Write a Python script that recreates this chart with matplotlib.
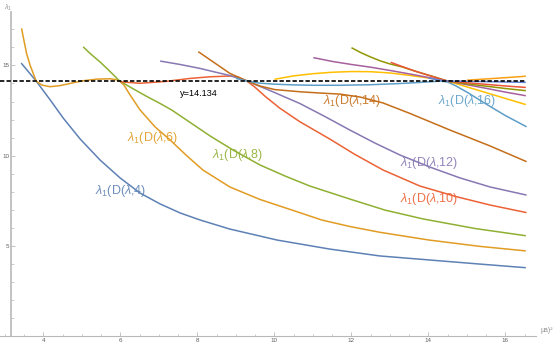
import matplotlib
matplotlib.use("Agg")
import matplotlib.pyplot as plt
from matplotlib.ticker import FixedLocator

plt.rcParams['mathtext.fontset'] = 'custom'
plt.rcParams['mathtext.rm'] = 'Liberation Sans'
plt.rcParams['mathtext.it'] = 'Liberation Sans:italic'
plt.rcParams['font.family'] = ['Liberation Sans', 'DejaVu Sans']

# ---- data ----
x4 = [3.42, 3.81, 4.17, 4.51, 4.95, 5.47, 5.99, 6.51, 7.03, 7.55, 8.07, 8.84, 10.07, 11.44, 12.74, 14.01, 15.34, 16.53]
y4 = [15.13, 14.13, 13.1, 12.09, 10.93, 9.76, 8.77, 7.93, 7.33, 6.83, 6.44, 5.94, 5.33, 4.83, 4.45, 4.23, 4.0, 3.8]

x6 = [3.43, 3.49, 3.56, 3.65, 3.81, 3.96, 4.17, 4.43, 4.69, 5.03, 5.39, 5.73, 5.88, 5.97, 6.09, 6.25, 6.51, 6.9, 7.29, 7.7, 8.14, 8.84, 9.62, 10.4, 11.23, 11.96, 12.74, 14.02, 15.34, 16.53]
y6 = [17.05, 16.4, 15.67, 15.02, 14.13, 13.91, 13.82, 13.88, 14.0, 14.15, 14.24, 14.26, 14.21, 14.15, 13.91, 13.36, 12.53, 11.59, 10.87, 10.04, 9.21, 8.27, 7.58, 7.03, 6.44, 6.08, 5.76, 5.33, 4.98, 4.73]

x8 = [5.03, 5.21, 5.47, 5.73, 5.97, 6.25, 6.64, 7.03, 7.33, 7.81, 8.33, 8.92, 9.62, 10.27, 10.92, 11.96, 12.87, 13.86, 15.21, 16.53]
y8 = [16.03, 15.66, 15.19, 14.66, 14.15, 13.8, 13.33, 12.89, 12.53, 11.84, 11.09, 10.32, 9.49, 8.88, 8.32, 7.6, 6.99, 6.5, 5.97, 5.57]

x10 = [6.0, 6.51, 7.16, 7.81, 8.33, 8.84, 9.05, 9.28, 9.49, 9.75, 10.14, 10.66, 11.44, 12.09, 12.82, 13.78, 14.73, 15.6, 16.55]
y10 = [14.09, 14.01, 14.11, 14.28, 14.37, 14.41, 14.36, 14.14, 13.8, 13.3, 12.63, 11.88, 10.92, 10.07, 9.21, 8.32, 7.73, 7.27, 6.85]

x12 = [7.03, 7.55, 8.07, 8.46, 8.84, 9.28, 9.88, 10.66, 11.31, 11.96, 12.61, 13.26, 14.04, 14.82, 15.6, 16.55]
y12 = [15.24, 15.05, 14.83, 14.63, 14.44, 14.14, 13.61, 12.89, 12.17, 11.42, 10.7, 10.04, 9.37, 8.77, 8.27, 7.82]

x14 = [8.02, 8.43, 8.84, 9.28, 9.62, 10.01, 10.66, 11.18, 11.7, 12.22, 12.82, 13.52, 14.56, 15.6, 16.55]
y14 = [15.76, 15.16, 14.56, 14.14, 13.86, 13.66, 13.54, 13.47, 13.41, 13.25, 12.92, 12.34, 11.42, 10.54, 9.67]

x16 = [9.0, 9.28, 9.6, 10.0, 10.5, 11.0, 11.7, 12.5, 13.2, 13.8, 14.3, 14.5, 14.7, 15.0, 15.5, 16.0, 16.55]
y16 = [14.28, 14.14, 14.02, 13.96, 13.92, 13.9, 13.9, 13.93, 13.99, 14.06, 14.13, 14.08, 13.88, 13.52, 12.86, 12.22, 11.6]

x18 = [10.0, 10.5, 11.0, 11.5, 12.0, 12.5, 13.0, 13.5, 14.0, 14.5, 15.0, 15.5, 16.0, 16.53]
y18 = [14.23, 14.42, 14.54, 14.62, 14.66, 14.65, 14.58, 14.45, 14.3, 14.13, 13.81, 13.49, 13.17, 12.83]

x20 = [11.01, 11.5, 12.0, 12.5, 13.0, 13.5, 14.0, 14.5, 15.0, 15.5, 16.0, 16.53]
y20 = [15.43, 15.22, 15.05, 14.9, 14.72, 14.53, 14.33, 14.13, 13.93, 13.73, 13.52, 13.32]

x22 = [12.0, 12.25, 12.48, 12.75, 13.0, 13.34, 13.7, 14.1, 14.5, 15.0, 15.5, 16.0, 16.53]
y22 = [15.98, 15.7, 15.48, 15.25, 15.08, 14.9, 14.65, 14.4, 14.13, 13.98, 13.85, 13.72, 13.6]

x24 = [13.02, 13.3, 13.6, 14.0, 14.5, 15.0, 15.5, 16.0, 16.53]
y24 = [15.17, 14.95, 14.72, 14.45, 14.13, 14.04, 13.95, 13.86, 13.78]

x26 = [14.0, 14.25, 14.5, 15.0, 15.5, 16.0, 16.53]
y26 = [14.3, 14.2, 14.13, 14.12, 14.1, 14.08, 14.06]

x28 = [15.0, 15.5, 16.0, 16.53]
y28 = [14.18, 14.25, 14.32, 14.4]

zeta_zero = 14.134
ref_x = [2.87, 16.5]

series_x = [x4, x6, x8, x10, x12, x14, x16, x18, x20, x22, x24, x26, x28]
series_y = [y4, y6, y8, y10, y12, y14, y16, y18, y20, y22, y24, y26, y28]
colors = ['#5E81B5', '#E19C24', '#8FB032', '#EB6235', '#8778B3', '#C56E1A',
          '#5D9EC7', '#FFBF00', '#A5609D', '#929600', '#E95536', '#6685D9', '#F89F13']

label_n = ['4', '6', '8', '10', '12', '14', '16']
label_x = [5.34, 6.17, 8.37, 13.26, 13.26, 11.26, 14.25]
label_y = [8.05, 10.98, 10.04, 7.6, 9.62, 13.03, 13.03]

x_major = [4, 6, 8, 10, 12, 14, 16]
x_minor = [3.0, 3.5, 4.5, 5.0, 5.5, 6.5, 7.0, 7.5, 8.5, 9.0, 9.5, 10.5, 11.0, 11.5,
           12.5, 13.0, 13.5, 14.5, 15.0, 15.5, 16.5]
y_major = [5, 10, 15]
y_minor = [1, 2, 3, 4, 6, 7, 8, 9, 11, 12, 13, 14, 16, 17]

# ---- figure ----
fig = plt.figure(figsize=(5.57, 3.47), dpi=100)
ax = fig.add_axes([0, 0, 1, 1])
ax.set_xlim(2.87, 17.34)
ax.set_ylim(-0.59, 18.62)

for xs, ys, c in zip(series_x, series_y, colors):
    ax.plot(xs, ys, color=c, lw=1.1, solid_capstyle='butt', solid_joinstyle='round', zorder=2)

ax.plot(ref_x, [zeta_zero, zeta_zero], color='black', lw=1.2,
        ls=(0, (2.6, 1.3)), zorder=3)
ax.text(7.55, 13.47, 'y=14.134', fontsize=6.6, color='black', va='center', ha='left')

for n, lx, ly, c in zip(label_n, label_x, label_y, colors):
    ax.text(lx, ly, r'$\mathit{\lambda}_{1}$' + '(D(' + r'$\mathit{\lambda}$' + ',' + n + ')',
            fontsize=9, color=c, va='center', ha='left', alpha=0.9)

axc = '#b8b8b8'
for s in ['top', 'right']:
    ax.spines[s].set_visible(False)
ax.spines['left'].set_position(('data', 3.16))
ax.spines['bottom'].set_position(('data', 0))
ax.spines['left'].set_bounds(0, 17.95)
ax.spines['bottom'].set_bounds(2.87, 16.79)
ax.spines['left'].set_color(axc)
ax.spines['bottom'].set_color(axc)
ax.spines['left'].set_linewidth(1.2)
ax.spines['bottom'].set_linewidth(0.8)

ax.xaxis.set_major_locator(FixedLocator(x_major))
ax.xaxis.set_minor_locator(FixedLocator(x_minor))
ax.yaxis.set_major_locator(FixedLocator(y_major))
ax.yaxis.set_minor_locator(FixedLocator(y_minor))
ax.set_xticklabels([str(v) for v in x_major])
ax.set_yticklabels([str(v) for v in y_major])
ax.tick_params(which='major', direction='in', length=3, width=0.6, color=axc,
               labelsize=4.5, labelcolor='#606060', pad=1.5)
ax.tick_params(which='minor', direction='in', length=1.8, width=0.5, color=axc)

ax.text(3.07, 18.45, r'$\mathit{\lambda}_{1}$', fontsize=5, color='#909090', va='top', ha='center')
ax.text(16.92, 0.32, 'μa)²', fontsize=5, color='#909090', va='center', ha='left')

fig.savefig('out.png', dpi=100)
